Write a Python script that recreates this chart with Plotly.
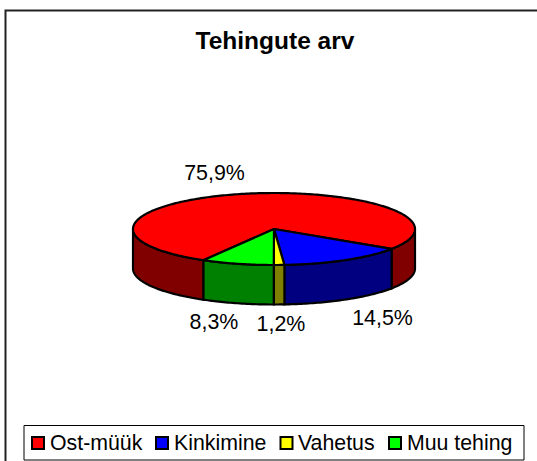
import math
import plotly.graph_objects as go

categories = ["Ost-müük", "Kinkimine", "Vahetus", "Muu tehing"]
values = [75.9, 14.5, 1.2, 8.3]
title_text = "Tehingute arv"

top_colors = ["#ff0000", "#0000ff", "#ffff00", "#00ff00"]
side_colors = ["#800000", "#000080", "#808000", "#008000"]
label_pos = [(214.5, 174.5), (382.5, 319.5), (281, 325.5), (214, 323.5)]
legend_swatch_x = [38, 162, 286.5, 395]
legend_text_x = [50, 174, 298, 407]

W, H = 537, 461
CX, CY, A, B, DEPTH = 274, 229, 141, 36, 39.5
START = 210.0
LW = 2.2


def pt(deg, dy=0.0):
    r = math.radians(deg)
    return CX + A * math.sin(r), CY - B * math.cos(r) + dy


def arc(a0, a1, dy=0.0):
    n = max(2, int(abs(a1 - a0)) + 2)
    return [pt(a0 + (a1 - a0) * i / (n - 1), dy) for i in range(n)]


fig = go.Figure()
total = sum(values)
spans = []
cur = START
for v in values:
    spans.append((cur, cur + v / total * 360))
    cur += v / total * 360


def poly(pts, color, width=LW):
    fig.add_trace(go.Scatter(
        x=[p[0] for p in pts], y=[p[1] for p in pts], mode="lines", fill="toself",
        fillcolor=color, line=dict(color="black", width=width, simplify=False),
        showlegend=False, hoverinfo="skip"))


for (a0, a1), col in zip(spans, side_colors):
    for shift in (0, -360):
        lo, hi = max(a0 + shift, 90), min(a1 + shift, 270)
        if hi > lo:
            poly(arc(lo, hi) + arc(hi, lo, DEPTH) + [pt(lo)], col)

for (a0, a1), col in zip(spans, top_colors):
    poly([(CX, CY)] + arc(a0, a1) + [(CX, CY)], col)

fig.add_trace(go.Scatter(
    x=[p[0] for p in label_pos], y=[p[1] for p in label_pos], mode="text",
    text=[f"{v:.1f}".replace(".", ",") + "%" for v in values],
    textposition="middle center",
    textfont=dict(family="Liberation Sans", size=21.4, color="black"),
    showlegend=False, hoverinfo="skip"))

# legend row, laid out tighter than plotly's own legend permits
LEG_Y = 443
fig.add_trace(go.Scatter(
    x=legend_swatch_x, y=[LEG_Y] * 4, mode="markers",
    marker=dict(symbol="square", size=12, color=top_colors, line=dict(color="black", width=2)),
    showlegend=False, hoverinfo="skip"))
fig.add_trace(go.Scatter(
    x=legend_text_x, y=[LEG_Y + 1.5] * 4, mode="text", text=categories, textposition="middle right",
    textfont=dict(family="Liberation Sans", size=21.3, color="black"),
    showlegend=False, hoverinfo="skip"))

fig.update_layout(
    width=W, height=H, autosize=False, margin=dict(l=0, r=0, t=0, b=0),
    paper_bgcolor="white", plot_bgcolor="white", showlegend=False,
    xaxis=dict(visible=False, range=[0, W], fixedrange=True),
    yaxis=dict(visible=False, range=[H, 0], fixedrange=True),
    title=dict(text=f"<b>{title_text}</b>", x=275 / W, xanchor="center", y=1 - 40 / H, yanchor="middle",
               font=dict(family="Liberation Sans", size=24.5, color="black")),
    shapes=[
        dict(type="rect", xref="x", yref="y", x0=5.5, y0=10.5, x1=W + 10, y1=H + 10,
             line=dict(color="#222", width=2), layer="below"),
        dict(type="rect", xref="x", yref="y", x0=24, y0=425.5, x1=524, y1=460,
             line=dict(color="black", width=1), layer="below"),
    ],
)
fig.write_html("out.html", config={"displayModeBar": False},
               post_script="document.body.style.margin='0';document.body.style.overflow='hidden';")
